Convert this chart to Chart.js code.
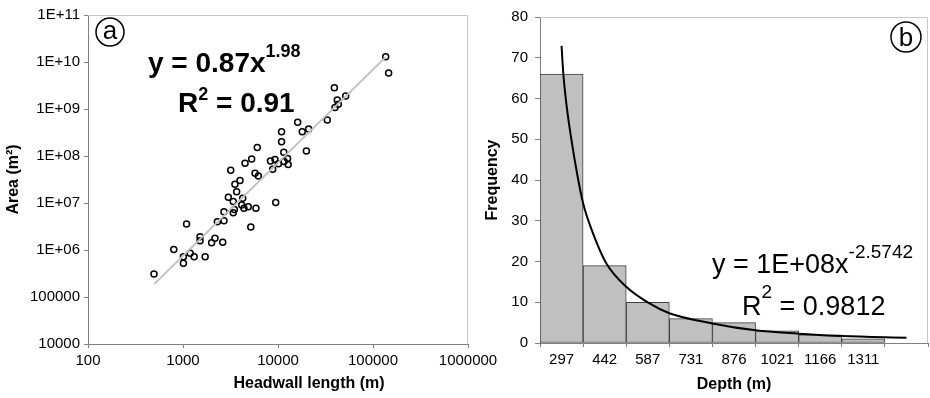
<!DOCTYPE html>
<html>
<head>
<meta charset="utf-8">
<script src="https://cdn.jsdelivr.net/npm/chart.js@4.4.1/dist/chart.umd.min.js"></script>
<style>
  html, body { margin: 0; padding: 0; background: #fff; }
  #wrap { position: relative; width: 930px; height: 398px; overflow: hidden; }
  #chartA { position: absolute; left: 0; top: 0; }
  #chartB { position: absolute; left: 470px; top: 0; }
</style>
</head>
<body>
<div id="wrap">
  <canvas id="chartA" width="520" height="398"></canvas>
  <canvas id="chartB" width="460" height="398"></canvas>
</div>
<script>
// (a) headwall length (m) against area (m2)
const headwallLength = [136000, 146000, 39200, 51600, 42100, 43100, 39800, 33000, 16100, 18000,
  21000, 10900, 10900, 6050, 19900, 11500, 5280, 8340, 9290, 10100,
  11600, 12600, 12800, 8790, 4500, 3180, 5730, 6210, 3980, 3520,
  3670, 3000, 4250, 3380, 4150, 9460, 4860, 4380, 5860, 3470,
  2700, 3380, 2300, 2700, 5170, 1090, 1510, 1510, 2170, 2000,
  2620, 800, 1190, 1310, 1010, 1710, 1010, 495];
const area = [1.3e10, 5.8e9, 2.84e9, 1.89e9, 1.55e9, 1.26e9, 1.07e9, 5.8e8, 5.2e8, 3.3e8,
  3.75e8, 3.3e8, 2.0e8, 1.52e8, 1.28e8, 1.2e8, 8.6e7, 7.8e7, 8.4e7, 6.8e7,
  7.6e7, 8.9e7, 6.6e7, 5.2e7, 7.0e7, 5.0e7, 4.3e7, 3.75e7, 3.0e7, 2.5e7,
  1.74e7, 1.32e7, 1.26e7, 1.07e7, 9.1e6, 1.03e7, 8.3e6, 7.7e6, 7.7e6, 7.3e6,
  6.5e6, 6.2e6, 4.0e6, 4.2e6, 3.1e6, 3.57e6, 1.92e6, 1.58e6, 1.77e6, 1.43e6,
  1.46e6, 1.03e6, 8.5e5, 7.2e5, 7.2e5, 7.2e5, 5.2e5, 3.1e5];
// trend line end points
const trendX = [500, 136000];
const trendY = [1.9e5, 1.27e10];

const xTicksA = [100, 1000, 10000, 100000, 1000000];
const xTickLabelsA = ['100', '1000', '10000', '100000', '1000000'];
const yTicksA = [1e4, 1e5, 1e6, 1e7, 1e8, 1e9, 1e10, 1e11];
const yTickLabelsA = ['10000', '100000', '1E+06', '1E+07', '1E+08', '1E+09', '1E+10', '1E+11'];

// (b) depth histogram
const depthLabels = ['297', '442', '587', '731', '876', '1021', '1166', '1311', ''];
const frequency = [66, 19, 10, 6, 5, 3, 2, 1, null];
// fitted curve, position in bins (0 = first bin centre) and value
const fitPos = [0, 0.04, 0.12, 0.23, 0.36, 0.5, 0.73, 1.04, 1.5, 2.04, 2.5, 3.5, 4.5, 5.5, 6.5, 8];
const fitFreq = [72.9, 66.2, 58.0, 49.8, 41.6, 34.3, 26.9, 19.5, 13.8, 9.7, 7.3, 4.8, 3.1, 2.3, 1.7, 1.3];
const yTicksB = [0, 10, 20, 30, 40, 50, 60, 70, 80];

const FONT = "'Liberation Sans', Arial, sans-serif";
Chart.defaults.font.family = FONT;
Chart.defaults.color = '#000';
Chart.defaults.animation = false;

// light frame on top and right of the plot area
const frame = {
  id: 'frame',
  beforeDatasetsDraw(chart) {
    const a = chart.chartArea;
    const ctx = chart.ctx;
    ctx.save();
    ctx.strokeStyle = '#c8c8c8';
    ctx.lineWidth = 1;
    ctx.beginPath();
    ctx.moveTo(a.left, a.top + 0.5);
    ctx.lineTo(a.right - 0.5, a.top + 0.5);
    ctx.lineTo(a.right - 0.5, a.bottom);
    ctx.stroke();
    ctx.restore();
  }
};

function putText(ctx, x, y, parts) {
  let cx = x;
  parts.forEach(p => {
    ctx.font = p[1];
    ctx.fillText(p[0], cx, y + p[2]);
    cx += ctx.measureText(p[0]).width;
  });
}

function badge(ctx, cx, cy, r, letter, dy) {
  ctx.beginPath();
  ctx.arc(cx, cy, r, 0, Math.PI * 2);
  ctx.lineWidth = 1.5;
  ctx.strokeStyle = '#000';
  ctx.stroke();
  ctx.font = '26px ' + FONT;
  ctx.textAlign = 'center';
  ctx.fillText(letter, cx, cy + dy);
  ctx.textAlign = 'left';
}

const notesA = {
  id: 'notesA',
  afterDraw(chart) {
    const ctx = chart.ctx;
    ctx.save();
    ctx.fillStyle = '#000';
    ctx.textBaseline = 'alphabetic';
    badge(ctx, 110, 32, 14, 'a', 7);
    putText(ctx, 148, 72, [['y = 0.87x', 'bold 28px ' + FONT, 0], ['1.98', 'bold 18px ' + FONT, -15]]);
    putText(ctx, 178, 112, [['R', 'bold 28px ' + FONT, 0], ['2', 'bold 18px ' + FONT, -12], [' = 0.91', 'bold 28px ' + FONT, 0]]);
    ctx.font = 'bold 16px ' + FONT;
    ctx.textAlign = 'center';
    ctx.fillText('Headwall length (m)', 309, 388);
    ctx.restore();
  }
};

const notesB = {
  id: 'notesB',
  afterDraw(chart) {
    const ctx = chart.ctx;
    ctx.save();
    ctx.fillStyle = '#000';
    ctx.textBaseline = 'alphabetic';
    badge(ctx, 436, 37, 15, 'b', 9);
    putText(ctx, 242, 273, [['y = 1E+08x', '27px ' + FONT, 0], ['-2.5742', '19px ' + FONT, -15]]);
    putText(ctx, 272, 315, [['R', '27px ' + FONT, 0], ['2', '19px ' + FONT, -17], [' = 0.9812', '27px ' + FONT, 0]]);
    ctx.restore();
  }
};

const tickGrid = { drawOnChartArea: false, drawTicks: true, tickLength: 4, color: '#808080' };

new Chart(document.getElementById('chartA'), {
  type: 'scatter',
  data: {
    datasets: [
      {
        label: 'Trend',
        type: 'line',
        data: trendX.map((x, i) => ({ x: x, y: trendY[i] })),
        borderColor: '#c0c0c0',
        borderWidth: 2,
        pointRadius: 0,
        showLine: true,
        order: 0
      },
      {
        label: 'Area',
        data: headwallLength.map((x, i) => ({ x: x, y: area[i] })),
        pointRadius: 3,
        pointBorderWidth: 1.5,
        pointBorderColor: '#000',
        pointBackgroundColor: 'rgba(0,0,0,0)',
        order: 1
      }
    ]
  },
  options: {
    responsive: false,
    layout: { padding: { top: 15, right: 52, left: 0, bottom: 0 } },
    plugins: { legend: { display: false }, tooltip: { enabled: false } },
    scales: {
      x: {
        type: 'logarithmic',
        min: 100,
        max: 1000000,
        afterBuildTicks: s => { s.ticks = xTicksA.map(v => ({ value: v })); },
        afterFit: s => { s.height = 54; },
        ticks: { font: { size: 15 }, padding: 4, maxRotation: 0, autoSkip: false,
          callback: (v, i) => xTickLabelsA[i] },
        grid: tickGrid,
        border: { color: '#808080' }
      },
      y: {
        type: 'logarithmic',
        min: 1e4,
        max: 1e11,
        afterBuildTicks: s => { s.ticks = yTicksA.map(v => ({ value: v })); },
        afterFit: s => { s.width = 88; },
        ticks: { font: { size: 15 }, padding: 4, autoSkip: false,
          callback: (v, i) => yTickLabelsA[i] },
        grid: tickGrid,
        border: { color: '#808080' },
        title: { display: true, text: 'Area (m²)', font: { size: 16, weight: 'bold' }, padding: { top: 4, bottom: 0 } }
      }
    }
  },
  plugins: [frame, notesA]
});

new Chart(document.getElementById('chartB'), {
  type: 'bar',
  data: {
    labels: depthLabels,
    datasets: [
      {
        label: 'Fit',
        type: 'line',
        xAxisID: 'x2',
        data: fitPos.map((x, i) => ({ x: x, y: fitFreq[i] })),
        borderColor: '#000',
        borderWidth: 2,
        pointRadius: 0,
        cubicInterpolationMode: 'monotone',
        order: 0
      },
      {
        label: 'Frequency',
        data: frequency,
        backgroundColor: '#c0c0c0',
        borderColor: '#404040',
        borderWidth: 1,
        borderSkipped: false,
        grouped: false,
        categoryPercentage: 1,
        barPercentage: 1,
        order: 1
      }
    ]
  },
  options: {
    responsive: false,
    layout: { padding: { top: 17, right: 2, left: 0, bottom: 0 } },
    plugins: { legend: { display: false }, tooltip: { enabled: false } },
    scales: {
      x: {
        type: 'category',
        offset: true,
        afterFit: s => { s.height = 55; },
        ticks: { font: { size: 15 }, padding: 4, maxRotation: 0, autoSkip: false },
        grid: Object.assign({}, tickGrid, { offset: true }),
        border: { color: '#808080' },
        title: { display: true, text: 'Depth (m)', font: { size: 16, weight: 'bold' }, padding: { top: 0, bottom: 4 } }
      },
      x2: { type: 'linear', display: false, offset: false, min: -0.5, max: 8.5 },
      y: {
        min: 0,
        max: 80,
        afterBuildTicks: s => { s.ticks = yTicksB.map(v => ({ value: v })); },
        afterFit: s => { s.width = 70; },
        ticks: { font: { size: 15 }, padding: 7 },
        grid: Object.assign({}, tickGrid, { tickLength: 5 }),
        border: { color: '#808080' },
        title: { display: true, text: 'Frequency', font: { size: 16, weight: 'bold' }, padding: { top: 13, bottom: 0 } }
      }
    }
  },
  plugins: [frame, notesB]
});
</script>
</body>
</html>
